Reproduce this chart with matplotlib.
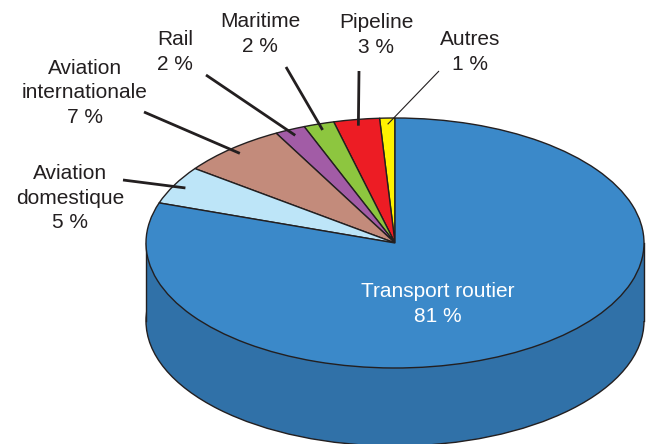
import numpy as np
import matplotlib
matplotlib.use("Agg")
import matplotlib.pyplot as plt
from matplotlib.patches import Ellipse, Rectangle
from matplotlib.transforms import Affine2D

plt.rcParams['font.family'] = ['Liberation Sans', 'DejaVu Sans']

# data, listed counter-clockwise from 12 o'clock
labels = ["Autres", "Pipeline", "Maritime", "Rail",
          "Aviation\ninternationale", "Aviation\ndomestique", "Transport routier"]
shares = [1, 3, 2, 2, 7, 5, 81]
colors = ["#fff200", "#ed1c24", "#8dc63f", "#a25ca6",
          "#c38b7b", "#bde5f8", "#3b89c9"]
side_color = "#3071a8"
edge = "#231f20"

# layout in pixels (654x444 canvas), converted to pie units
CX, CY, RX = 395, 243, 249
TILT = 0.502          # ry / rx
DEPTH = 78 / RX


def px(x, y):
    return (x - CX) / RX, (CY - y) / RX


# label centres and leader line starts, in pixels
label_pos = [(470, 52), (376, 35), (260, 34), (175, 52), (85, 93), (70, 198)]
leader_start = [(439, 71), (359, 71), (286, 67), (206, 75), (144, 112), (123, 180)]
leader_width = [0.8, 2.0, 2.0, 2.0, 2.0, 2.0]
inner_pos = (438, 304)

fig = plt.figure(figsize=(6.54, 4.44), dpi=100)
ax = fig.add_axes([0, 0, 1, 1])

# side of the cylinder (only the front is visible, all road transport)
ax.add_patch(Ellipse((0, -DEPTH), 2, 2 * TILT, facecolor=side_color,
                     edgecolor=edge, lw=1.0, zorder=1))
ax.add_patch(Rectangle((-1, -DEPTH), 2, DEPTH, facecolor=side_color,
                       edgecolor="none", zorder=1))
ax.plot([-1, -1], [0, -DEPTH], color=edge, lw=1.0, zorder=2)
ax.plot([1, 1], [0, -DEPTH], color=edge, lw=1.0, zorder=2)

# top face
wedges, _ = ax.pie(shares, colors=colors, startangle=90, counterclock=True,
                   wedgeprops=dict(edgecolor=edge, linewidth=1.0))
squash = Affine2D().scale(1, TILT) + ax.transData
for w in wedges:
    w.set_transform(squash)
    w.set_zorder(3)

# outside labels with leader lines
total = sum(shares)
cum = np.cumsum([0] + shares)
for i in range(6):
    mid = np.deg2rad(90 + (cum[i] + shares[i] / 2) / total * 360)
    tip = (0.95 * np.cos(mid), 0.95 * TILT * np.sin(mid))
    sx, sy = px(*leader_start[i])
    ax.plot([sx, tip[0]], [sy, tip[1]], color=edge, lw=leader_width[i],
            solid_capstyle="butt", zorder=4)
    lx, ly = px(*label_pos[i])
    ax.text(lx, ly, f"{labels[i]}\n{shares[i]} %", ha="center", va="center",
            fontsize=15, color="#231f20", linespacing=1.38, zorder=5)

ix, iy = px(*inner_pos)
ax.text(ix, iy, f"{labels[6]}\n{shares[6]} %", ha="center", va="center",
        fontsize=15, color="white", linespacing=1.38, zorder=5)

ax.set_xlim(-CX / RX, (654 - CX) / RX)
ax.set_ylim(-(444 - CY) / RX, CY / RX)
ax.set_aspect("auto")
ax.axis("off")

fig.savefig("out.png", dpi=100)
